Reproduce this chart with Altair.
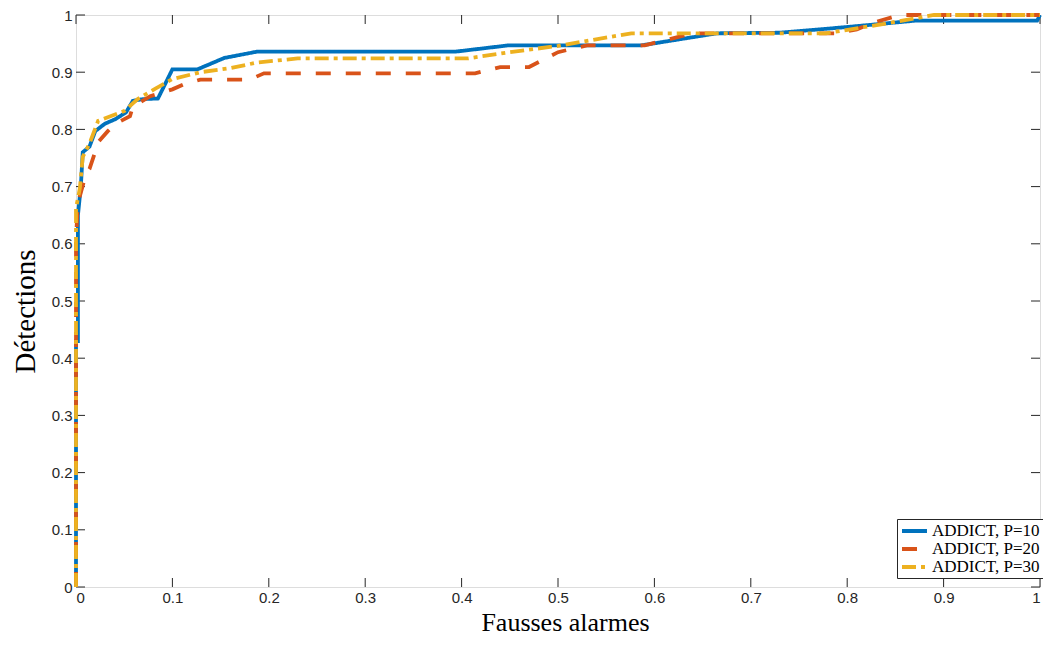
import altair as alt
import pandas as pd

# ---- data ----
x_p10 = [0.0, 0.0, 0.002, 0.002, 0.005, 0.007, 0.014, 0.02, 0.03, 0.041, 0.052, 0.059, 0.07, 0.085,
         0.1, 0.126, 0.154, 0.188, 0.394, 0.449, 0.587, 0.665, 0.73, 0.8, 0.87, 0.997, 1.0]
y_p10 = [0.0, 0.43, 0.43, 0.65, 0.70, 0.76, 0.77, 0.797, 0.81, 0.818, 0.83, 0.85, 0.853, 0.854,
         0.905, 0.905, 0.925, 0.936, 0.936, 0.947, 0.947, 0.968, 0.969, 0.979, 0.99, 0.99, 1.0]

x_p20 = [0.0, 0.0, 0.002, 0.01, 0.014, 0.02, 0.023, 0.033, 0.041, 0.056, 0.059, 0.077, 0.1, 0.112,
         0.129, 0.18, 0.195, 0.414, 0.44, 0.47, 0.5, 0.53, 0.59, 0.64, 0.79, 0.81, 0.83, 0.855, 1.0]
y_p20 = [0.0, 0.61, 0.671, 0.72, 0.731, 0.761, 0.778, 0.797, 0.81, 0.823, 0.84, 0.858, 0.87, 0.879,
         0.887, 0.887, 0.898, 0.898, 0.909, 0.909, 0.935, 0.947, 0.947, 0.968, 0.968, 0.975, 0.988, 1.0, 1.0]

x_p30 = [0.0, 0.0, 0.004, 0.007, 0.014, 0.023, 0.05, 0.064, 0.081, 0.1, 0.129, 0.16, 0.188, 0.23,
         0.406, 0.45, 0.5, 0.576, 0.778, 0.84, 0.89, 1.0]
y_p30 = [0.0, 0.662, 0.697, 0.752, 0.775, 0.815, 0.832, 0.853, 0.87, 0.888, 0.9, 0.907, 0.917, 0.924,
         0.924, 0.935, 0.946, 0.968, 0.968, 0.985, 1.0, 1.0]

series_names = ["ADDICT, P=10", "ADDICT, P=20", "ADDICT, P=30"]
series_colors = ["#0072BD", "#D95319", "#EDB120"]
series_dash = [[1, 0], [15, 15], [14, 5, 4, 5]]

tick_values = [0.0, 0.1, 0.2, 0.3, 0.4, 0.5, 0.6, 0.7, 0.8, 0.9, 1.0]

rows = []
for name, xs, ys in zip(series_names, [x_p10, x_p20, x_p30], [y_p10, y_p20, y_p30]):
    for i, (xv, yv) in enumerate(zip(xs, ys)):
        rows.append({"series": name, "fa": xv, "det": yv, "idx": i})
df = pd.DataFrame(rows)
ticks_df = pd.DataFrame({"t": tick_values})

PAD_L, PAD_T = 68, 7
W, H = 964, 572
SVG_W, SVG_H = 1035, 629
TL = 9
AX = "#262626"

xscale = alt.Scale(domain=[0, 1], nice=False, zero=False)
yscale = alt.Scale(domain=[0, 1], nice=False, zero=False)

legend_cfg = dict(title=None, orient="none", legendX=821, legendY=504,
                  labelFont="Liberation Serif", labelFontSize=17, labelColor="black",
                  symbolType="M-1,0H2.57", symbolSize=196, symbolStrokeWidth=4,
                  fillColor="white", strokeColor=AX, padding=3, rowPadding=1,
                  labelOffset=14)

lines = alt.Chart(df).mark_line(strokeWidth=3.8).encode(
    x=alt.X("fa:Q", scale=xscale,
            axis=alt.Axis(values=tick_values, format=".1~f", ticks=False, domain=False, grid=False,
                          labelFont="Liberation Sans", labelFontSize=15, labelColor=AX,
                          labelPadding=3, title="Fausses alarmes", titleFont="Liberation Serif",
                          titleFontSize=26, titleFontWeight="normal", titleColor="black",
                          titleBaseline="alphabetic", titleY=SVG_H - PAD_T - H - 7,
                          titleX=489, titleAlign="center")),
    y=alt.Y("det:Q", scale=yscale,
            axis=alt.Axis(values=tick_values, format=".1~f", ticks=False, domain=False, grid=False,
                          labelFont="Liberation Sans", labelFontSize=15, labelColor=AX,
                          labelPadding=4, title="Détections", titleFont="Liberation Serif",
                          titleFontSize=29, titleFontWeight="normal", titleColor="black",
                          titleBaseline="alphabetic", titleAngle=-90, titleX=-42, titleY=296,
                          titleAlign="center")),
    color=alt.Color("series:N", scale=alt.Scale(domain=series_names, range=series_colors),
                    legend=alt.Legend(**legend_cfg)),
    strokeDash=alt.StrokeDash("series:N", scale=alt.Scale(domain=series_names, range=series_dash),
                              legend=alt.Legend(**legend_cfg)),
    order="idx:Q",
)

tick_base = alt.Chart(ticks_df).mark_rule(color=AX, strokeWidth=1)
xt_bottom = tick_base.encode(x=alt.X("t:Q", scale=xscale), y=alt.value(H), y2=alt.value(H - TL))
xt_top = tick_base.encode(x=alt.X("t:Q", scale=xscale), y=alt.value(0), y2=alt.value(TL))
yt_left = tick_base.encode(y=alt.Y("t:Q", scale=yscale), x=alt.value(0), x2=alt.value(TL))
yt_right = tick_base.encode(y=alt.Y("t:Q", scale=yscale), x=alt.value(W), x2=alt.value(W - TL))

chart = alt.layer(xt_bottom, xt_top, yt_left, yt_right, lines).properties(
    width=W, height=H,
    autosize=alt.AutoSizeParams(type="none"),
    padding={"left": PAD_L, "top": PAD_T, "right": SVG_W - PAD_L - W, "bottom": SVG_H - PAD_T - H},
).configure_view(stroke=AX, strokeWidth=1).configure(background="white")

chart.save("out.html", embed_options={"renderer": "svg", "actions": False})
